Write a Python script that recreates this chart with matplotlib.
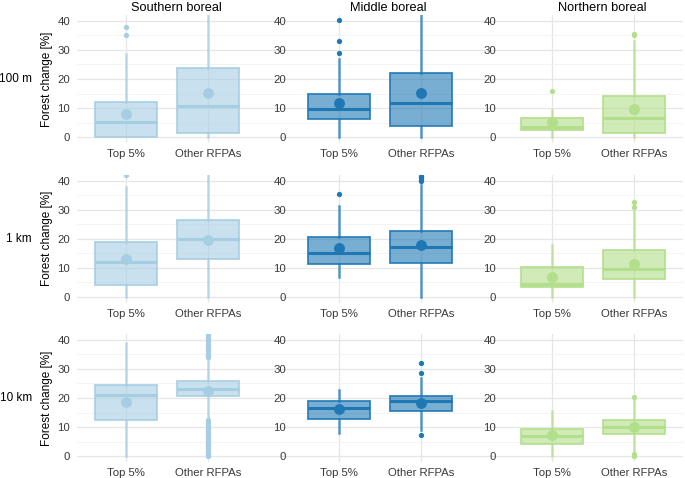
import matplotlib
matplotlib.use("Agg")
import matplotlib.pyplot as plt
from matplotlib.colors import to_rgba

plt.rcParams["font.family"] = ["Liberation Sans", "DejaVu Sans"]

# Layout of the grid: rows = distance, columns = region
ROWS = ["100 m", "1 km", "10 km"]
REGIONS = ["Southern boreal", "Middle boreal", "Northern boreal"]
GROUPS = ["Top 5%", "Other RFPAs"]
COLORS = ["#a6cee3", "#1f78b4", "#b2df8a"]

# Box statistics: [row][region] -> [Top 5%, Other RFPAs]
Q1 = [
    [[0.0, 1.3], [6.2, 3.9], [2.5, 1.4]],
    [[3.9, 13.0], [11.3, 11.8], [3.4, 6.1]],
    [[12.4, 20.6], [12.8, 15.6], [4.1, 7.7]],
]
MED = [
    [[5.2, 10.7], [9.6, 11.8], [3.6, 6.7]],
    [[12.1, 20.0], [15.2, 17.0], [4.4, 9.6]],
    [[21.2, 23.2], [16.6, 18.8], [6.9, 10.0]],
]
Q3 = [
    [[12.0, 23.8], [14.9, 22.1], [6.6, 14.2]],
    [[18.8, 26.4], [20.7, 22.8], [10.1, 16.0]],
    [[24.3, 25.8], [19.0, 20.7], [9.4, 12.5]],
]
WHIS_LO = [
    [[0.0, 0.0], [0.0, 0.0], [0.0, 0.0]],
    [[0.0, 0.0], [6.9, 0.0], [0.0, 0.0]],
    [[0.0, 13.0], [8.1, 9.0], [0.0, 0.8]],
]
WHIS_HI = [
    [[28.6, 45.0], [26.8, 45.0], [9.2, 33.0]],
    [[38.0, 45.0], [31.3, 38.5], [17.8, 29.5]],
    [[38.9, 33.3], [22.8, 27.0], [15.6, 19.8]],
]
MEAN = [
    [[8.0, 15.2], [11.7, 15.1], [5.1, 9.6]],
    [[13.0, 19.6], [16.7, 17.7], [6.7, 11.3]],
    [[18.6, 22.3], [16.2, 18.2], [7.2, 9.9]],
]
OUTLIERS = [
    [[[35.0, 38.0], []], [[28.9, 33.0, 40.3], []], [[16.0], [35.0, 35.5]]],
    [[[42.0], []], [[35.6], [39.8, 40.3, 40.8, 41.3, 41.8]], [[], [31.0, 32.8]]],
    [[[], [0.0, 0.4, 0.8, 1.3, 1.8, 2.3, 2.8, 3.3, 3.8, 4.3, 4.8, 5.3, 5.8,
            6.3, 6.8, 7.3, 7.8, 8.3, 8.8, 9.3, 9.8, 10.3, 10.8, 11.3, 11.8,
            12.4, 34.0, 34.6, 35.2, 36.2, 37.0, 38.0, 38.6, 39.5, 40.3,
            41.0, 41.6]],
     [[], [7.3, 28.6, 31.9]],
     [[], [0.2, 0.6, 20.2]]],
]

W, H = 685, 478
# panel placement in pixels (left, right) per column, (top, bottom) per row
COL_PX = [(77, 293), (293, 503), (503, 683)]
ROW_PX = [(15, 143), (175, 302.5), (334, 462)]
XLIMS = [(0.40, 3.04), (0.44, 3.0), (0.40, 2.60)]
TITLE_X = [176, 388, 602]

fig = plt.figure(figsize=(W / 100, H / 100), dpi=100)

for r in range(3):
    for c in range(3):
        x0, x1 = COL_PX[c]
        y0, y1 = ROW_PX[r]
        ax = fig.add_axes([x0 / W, 1 - y1 / H, (x1 - x0) / W, (y1 - y0) / H])
        col = COLORS[c]
        stats = []
        for g in range(2):
            stats.append(dict(q1=Q1[r][c][g], med=MED[r][c][g], q3=Q3[r][c][g],
                              whislo=WHIS_LO[r][c][g], whishi=WHIS_HI[r][c][g],
                              mean=MEAN[r][c][g], fliers=OUTLIERS[r][c][g]))
        ax.bxp(stats, positions=[1, 2], widths=0.75, patch_artist=True,
               showmeans=True, showcaps=False,
               boxprops=dict(facecolor=to_rgba(col, 0.6), edgecolor=to_rgba(col, 0.9), lw=1.3),
               medianprops=dict(color=col, lw=2.2),
               whiskerprops=dict(color=to_rgba(col, 0.75), lw=1.8),
               meanprops=dict(marker="o", markerfacecolor=col, markeredgecolor=col,
                              markersize=6.8),
               flierprops=dict(marker="o", markerfacecolor=col, markeredgecolor="none",
                               markersize=3.8),
               zorder=3)
        ax.set_xlim(*XLIMS[c])
        ax.set_ylim(-2, 42)
        ax.set_yticks([0, 10, 20, 30, 40])
        ax.set_yticks([5, 15, 25, 35], minor=True)
        ax.set_xticks([1, 2])
        ax.set_xticklabels(GROUPS)
        ax.grid(True, which="major", color="#e6e6e6", lw=0.9, zorder=0)
        ax.grid(True, which="minor", axis="y", color="#f2f2f2", lw=0.6, zorder=0)
        ax.set_axisbelow(True)
        ax.patch.set_alpha(0)
        for s in ax.spines.values():
            s.set_visible(False)
        ax.tick_params(which="both", length=0, labelsize=8.2, colors="#3a3a3a", pad=4.5)
        ax.tick_params(axis="y", pad=5)
        if c == 0:
            ax.set_ylabel("Forest change [%]", fontsize=8.5, labelpad=3)
            fig.text(32 / W, 1 - (y0 + y1) / 2 / H, ROWS[r], ha="right",
                     va="center", fontsize=8.5)
        if r == 0:
            fig.text(TITLE_X[c] / W, 1 - 8 / H, REGIONS[c], ha="center",
                     va="center", fontsize=9.2)

fig.savefig("out.png", dpi=100)
